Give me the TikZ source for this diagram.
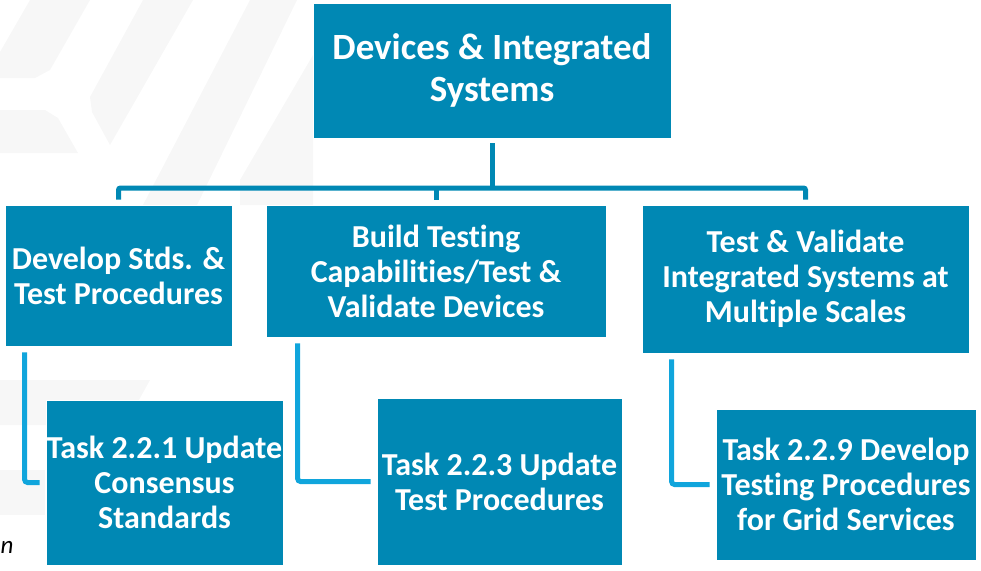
\documentclass[tikz,border=0pt]{standalone}
\usepackage{fontspec}
\setmainfont{Carlito}[Ligatures=CommonOff]
\definecolor{boxblue}{RGB}{0,136,180}
\definecolor{linkblue}{RGB}{16,165,220}
\definecolor{wmgray}{RGB}{247,247,247}
\tikzset{
  box/.style={fill=boxblue, draw=white, line width=0.8pt, text=white, align=center, inner sep=0pt,
    font=\bfseries\fontsize{32}{35}\selectfont},
  trunk/.style={draw=boxblue, line width=5pt, rounded corners=2pt},
  elbow/.style={draw=linkblue, line width=5pt, rounded corners=3pt},
}

\begin{document}
\begin{tikzpicture}[x=1pt,y=-1pt]
 \useasboundingbox (0,0) rectangle (981,570);

 % faint watermark
 \fill[wmgray] (30,0) -- (90,0) -- (50,70) -- (35,78) -- (0,78) -- (0,52) -- cycle;
 \fill[wmgray] (0,110) -- (45,110) -- (58,118) -- (78,153) -- (0,153) -- cycle;
 \fill[wmgray] (143,0) -- (193,0) -- (110,145) -- (92,112) -- (90,97) -- cycle;
 \fill[wmgray] (250,0) -- (297,0) -- (197,205) -- (143,205) -- cycle;
 \fill[wmgray] (313,55) -- (313,205) -- (240,205) -- (240,180) -- cycle;
 \fill[wmgray] (0,380) -- (150,380) -- (125,425) -- (0,425) -- cycle;
 \fill[wmgray] (0,470) -- (45,470) -- (45,515) -- (0,515) -- cycle;

 \node[box, minimum width=358pt, minimum height=135pt, font=\bfseries\fontsize{37}{42}\selectfont]
   (top) at (492,70.5) {Devices \& Integrated\\Systems};

 \node[box, minimum width=227pt, minimum height=141pt] (stds) at (118.5,275.5)
   {Develop Stds. \&\\Test Procedures};
 \node[box, minimum width=340pt, minimum height=132pt] (build) at (436,271)
   {Build Testing\\Capabilities/Test \&\\Validate Devices};
 \node[box, minimum width=327pt, minimum height=148pt] (valid) at (805.5,279)
   {Test \& Validate\\Integrated Systems at\\Multiple Scales};

 \node[box, minimum width=237pt, minimum height=165pt] (t221) at (164.5,482.5)
   {Task 2.2.1 Update\\Consensus\\Standards};
 \node[box, minimum width=245pt, minimum height=167pt] (t223) at (499.5,481.5)
   {Task 2.2.3 Update\\Test Procedures};
 \node[box, minimum width=260pt, minimum height=151pt] (t229) at (846,484.5)
   {Task 2.2.9 Develop\\Testing Procedures\\for Grid Services};

 \node[font=\itshape\fontsize{25}{30}\selectfont, anchor=base west, inner sep=0pt]
   (frag) at (0.5,553) {n};

 \coordinate (bus) at (0,188);
 \draw[trunk] ([yshift=-5pt]top.south) -- (top.south |- bus);
 \draw[trunk] ([yshift=5pt]stds.north) |- (bus -| valid.north) -- ([yshift=5pt]valid.north);
 \draw[trunk] (bus -| build.north) -- ([yshift=5pt]build.north);

 \draw[elbow] ([xshift=20pt,yshift=-6pt]stds.south west) |- ([xshift=-6pt]t221.west);
 \draw[elbow] ([xshift=32pt,yshift=-6pt]build.south west) |- ([xshift=-6pt]t223.west);
 \draw[elbow] ([xshift=30pt,yshift=-6pt]valid.south west) |- ([xshift=-6pt]t229.west);
\end{tikzpicture}
\end{document}
